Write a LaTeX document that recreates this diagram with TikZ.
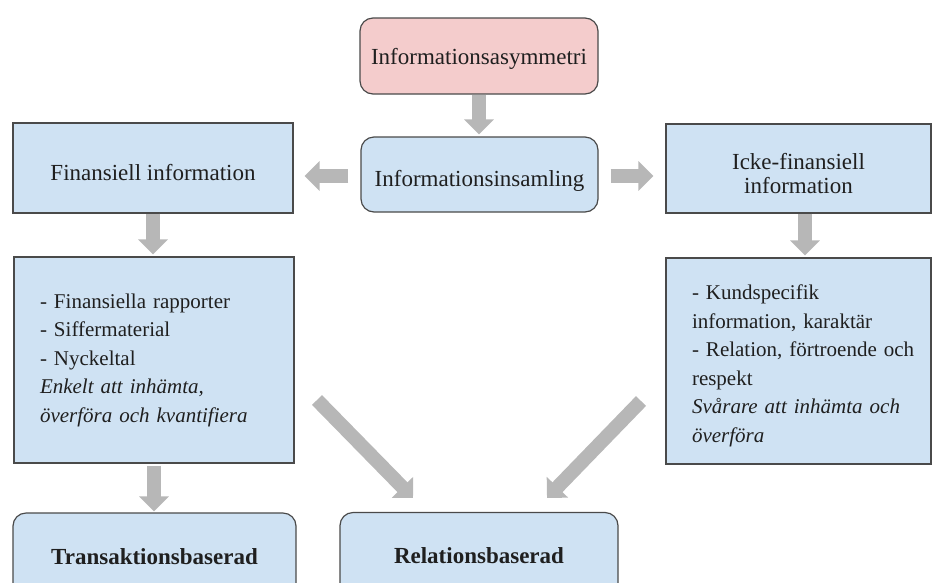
\documentclass[tikz,border=0pt]{standalone}
\usepackage{fontspec}
\setmainfont{Liberation Serif}
\usetikzlibrary{arrows.meta}
\definecolor{boxblue}{HTML}{CFE2F3}
\definecolor{boxpink}{HTML}{F4CCCC}
\definecolor{boxline}{HTML}{4A4A4A}
\definecolor{arrowgray}{HTML}{B7B7B7}
\definecolor{textdark}{HTML}{1F1F1F}
\begin{document}
\begin{tikzpicture}[x=1pt,y=-1pt,
  box/.style={draw=boxline, line width=1.2pt, fill=boxblue, inner sep=0pt, align=center,
    text=textdark, font=\fontsize{23}{26}\selectfont},
  rbox/.style={box, rounded corners=13pt},
  listbox/.style={box, align=left, inner xsep=26pt, font=\fontsize{21}{28.5}\selectfont},
  blockarrow/.style={draw=arrowgray, line width=14pt, line cap=butt,
    -{Triangle[width=29pt,length=15pt]}},
]
\useasboundingbox (0,0) rectangle (933,582);
\clip (0,0) rectangle (933,582);

\node[rbox, fill=boxpink, minimum width=238pt, minimum height=76pt, text height=21pt, text depth=5pt] (asym) at (479,56) {Informationsasymmetri};
\node[rbox, minimum width=237pt, minimum height=75pt, text height=29pt, text depth=5pt] (insaml) at (479.5,174.5) {Informationsinsamling};
\node[box, minimum width=280pt, minimum height=90pt, text height=25pt, text depth=0pt] (fin) at (153,168) {Finansiell information};
\node[box, minimum width=265pt, minimum height=89pt, font=\fontsize{23}{24.5}\selectfont] (icke) at (798.5,168.5) {\rule{0pt}{26pt}Icke-finansiell\\information};
\node[listbox, text width=228pt, minimum width=280pt, minimum height=206pt] (finlist) at (154,360)
  {- Finansiella rapporter\\- Siffermaterial\\- Nyckeltal\\\textit{Enkelt att inhämta,}\\\textit{överföra och kvantifiera}};
\node[listbox, text width=213pt, minimum width=265pt, minimum height=206pt] (ickelist) at (798.5,361)
  {\rule{0pt}{24pt}- Kundspecifik\\information, karaktär\\\mbox{- Relation, förtroende och}\\respekt\\\mbox{\textit{Svårare att inhämta och}}\\\textit{överföra}};
\node[rbox, minimum width=283pt, minimum height=87pt, font=\fontsize{23}{26}\selectfont\bfseries] (trans) at (154.5,556.5) {Transaktionsbaserad};
\node[rbox, minimum width=278pt, minimum height=87pt, font=\fontsize{23}{26}\selectfont\bfseries] (rel) at (479,556) {Relationsbaserad};

\draw[blockarrow, shorten >=2pt] (asym.south) -- (asym.south |- insaml.north);
\draw[blockarrow, shorten <=12pt, shorten >=11pt] ([yshift=-1.5pt]insaml.west) -- ([yshift=-1.5pt]insaml.west -| fin.east);
\draw[blockarrow, shorten <=12pt, shorten >=12pt] ([yshift=-1.5pt]insaml.east) -- ([yshift=-1.5pt]insaml.east -| icke.west);
\draw[blockarrow, shorten >=2pt] (fin.south) -- (fin.south |- finlist.north);
\draw[blockarrow, shorten >=2pt] ([xshift=6.5pt]icke.south) -- ([xshift=6.5pt]icke.south |- ickelist.north);
\draw[blockarrow, shorten <=2pt, shorten >=1pt] (finlist.south) -- (finlist.south |- trans.north);
\coordinate (dla) at (317,400);
\coordinate (dlb) at (413,498);
\coordinate (dra) at (641,401);
\coordinate (drb) at (547,498);
\draw[blockarrow] (dla) -- (dlb);
\draw[blockarrow] (dra) -- (drb);
\end{tikzpicture}
\end{document}
